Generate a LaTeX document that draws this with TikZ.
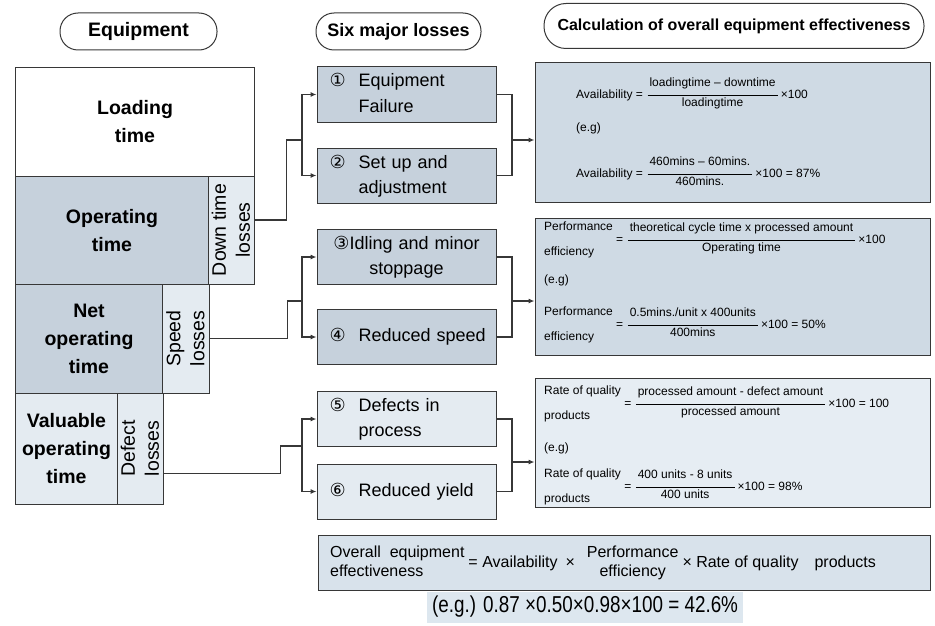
\documentclass[tikz,border=0pt]{standalone}
\usepackage{amsmath}
\usepackage{fontspec}
\setmainfont{Liberation Sans}
\newfontfamily\circfont{DejaVu Sans}
\newfontfamily\narrowfont[FakeStretch=0.82]{Liberation Sans}
\usepackage{tikz}
\usetikzlibrary{arrows.meta}

\definecolor{midfill}{RGB}{198,209,220}
\definecolor{lightfill}{RGB}{228,235,241}
\definecolor{calcfill}{RGB}{207,218,228}
\definecolor{qualfill}{RGB}{230,237,243}
\definecolor{sumfill}{RGB}{216,226,235}
\definecolor{egfill}{RGB}{221,231,239}
\definecolor{linegray}{RGB}{55,55,55}

\newcommand{\frc}[2]{$\dfrac{\mbox{\rule[-7pt]{0pt}{16pt}\,#1\,}}{\mbox{\rule[-4pt]{0pt}{13pt}\,#2\,}}$}
\newcommand{\lbl}[2]{\begin{tabular}{@{}l@{}}#1\\[10pt]#2\end{tabular}}
\newcommand{\numtwo}[3]{\begin{tabular}{@{\hspace{6pt}}l@{\hspace{13pt}}l@{}}{\circfont #1}&#2\\&#3\end{tabular}}

\tikzset{
    block/.style={draw=linegray, line width=1pt, inner sep=0pt, anchor=north west, align=center, font=\bfseries\fontsize{19.5}{28}\selectfont},
    lossbar/.style={draw=linegray, line width=1pt, inner sep=0pt, fill=lightfill, rotate=90, align=center, font=\fontsize{19.5}{24}\selectfont},
    lossbox/.style={draw=linegray, line width=1pt, fill=midfill, minimum width=179pt, minimum height=55pt, text width=166pt, align=left, inner sep=0pt, font=\fontsize{18}{25}\selectfont},
    header/.style={draw=linegray, line width=1pt, inner sep=0pt, minimum height=37pt, rounded corners=18pt},
    calcbox/.style={draw=linegray, line width=1pt, inner sep=0pt},
    formula/.style={anchor=west, inner sep=0pt, font=\fontsize{12}{14.4}\selectfont},
    link/.style={draw=linegray, line width=1.1pt},
    tip/.style={-{Latex[length=6pt,width=5pt]}}
}

\begin{document}
\begin{tikzpicture}[x=1pt,y=-1pt]
    \useasboundingbox (0,0) rectangle (935,626);

    \node[header, minimum width=157pt, font=\bfseries\fontsize{19.5}{20}\selectfont] at (138.5,31.5) (equiphead) {Equipment};
    \node[header, minimum width=165pt, font=\bfseries\fontsize{18}{20}\selectfont] at (398.5,31.5) (losshead) {Six major losses};
    \node[header, minimum width=380pt, minimum height=45pt, rounded corners=22pt, font=\bfseries\fontsize{16}{18}\selectfont] at (734,26) (calchead) {Calculation of overall equipment effectiveness};

    \node[block, minimum width=239pt, minimum height=109pt] at (15,67) (loading) {Loading\\time};
    \node[block, fill=midfill, minimum width=193pt, minimum height=108pt] at (15,176) (operating) {Operating\\time};
    \node[lossbar, minimum width=108pt, minimum height=46pt] at (231,230) (down) {Down time\\losses};
    \node[block, fill=midfill, minimum width=147pt, minimum height=109pt] at (15,284) (net) {Net\\operating\\time};
    \node[lossbar, minimum width=109pt, minimum height=47pt] at (185.5,338.5) (speed) {Speed\\losses};
    \node[block, fill=lightfill, minimum width=102pt, minimum height=111pt] at (15,393) (valuable) {Valuable\\operating\\time};
    \node[lossbar, minimum width=111pt, minimum height=46pt] at (140,448.5) (defect) {Defect\\losses};

    \node[lossbox] at (406.5,94.5) (loss1) {\numtwo{①}{Equipment}{Failure}};
    \node[lossbox] at (406.5,175.5) (loss2) {\numtwo{②}{Set up and}{adjustment}};
    \node[lossbox, align=center] at (406.5,257) (loss3) {{\circfont ③}Idling and minor\\stoppage};
    \node[lossbox] at (406.5,337) (loss4) {\hspace*{6pt}{\circfont ④}\hspace{13pt}Reduced speed};
    \node[lossbox, fill=lightfill] at (406.5,419) (loss5) {\numtwo{⑤}{Defects in}{process}};
    \node[lossbox, fill=lightfill] at (406.5,491.5) (loss6) {\hspace*{6pt}{\circfont ⑥}\hspace{13pt}Reduced yield};

    \node[calcbox, fill=calcfill, minimum width=395pt, minimum height=139pt] at (732.5,132.5) (avail) {};
    \node[formula] at (576,94) (availeq) {Availability = \frc{loadingtime -- downtime}{loadingtime}\,×100};
    \node[formula] at (576,128) (availeg) {(e.g)};
    \node[formula] at (576,173) (availex) {Availability = \frc{460mins -- 60mins.}{460mins.}\,×100 = 87\%};

    \node[calcbox, fill=calcfill, minimum width=395pt, minimum height=137pt] at (732.5,286.5) (perf) {};
    \node[formula] at (544,240) (perfeq) {\lbl{Performance}{efficiency} = \frc{theoretical cycle time x processed amount}{Operating time}\,×100};
    \node[formula] at (544,280) (perfeg) {(e.g)};
    \node[formula] at (544,325) (perfex) {\lbl{Performance}{efficiency} = \frc{0.5mins./unit x 400units}{400mins}\,×100 = 50\%};

    \node[calcbox, fill=qualfill, minimum width=395pt, minimum height=129pt] at (732.5,442.5) (qual) {};
    \node[formula] at (544,404) (qualeq) {\lbl{Rate of quality}{products} = \frc{processed amount - defect amount}{processed amount}\,×100 = 100};
    \node[formula] at (544,448) (qualeg) {(e.g)};
    \node[formula] at (544,487) (qualex) {\lbl{Rate of quality}{products} = \frc{400 units - 8 units}{400 units}\,×100 = 98\%};

    \node[calcbox, fill=sumfill, minimum width=612pt, minimum height=55pt] at (624,562.5) (oee) {};
    \node[anchor=west, inner sep=0pt, font=\fontsize{16}{19}\selectfont] at (330,563) (oeeeq) {\begin{tabular}{@{}l@{}}Overall\ \ equipment\\effectiveness\end{tabular}\hspace{4pt}= Availability\enspace×\hspace{12pt}\begin{tabular}{@{}c@{}}Performance\\efficiency\end{tabular}\hspace{4pt}× Rate of quality\quad products};
    \node[fill=egfill, inner xsep=5pt, inner ysep=0pt, minimum height=31pt, anchor=west, font=\narrowfont\fontsize{23}{26}\selectfont] at (427,607) (oeeex) {(e.g.) 0.87 ×0.50×0.98×100 = 42.6\%};

    \coordinate (fork1) at (302,140);
    \coordinate (join1) at (512,140);
    \draw[link] ([yshift=10pt]down.south) -- ++(32,0) |- (fork1);
    \draw[link,tip] (fork1) |- (loss1.west);
    \draw[link,tip] (fork1) |- (loss2.west);
    \draw[link] (loss1.east) -| (join1) |- (loss2.east);
    \draw[link,tip] (join1) -- (join1 -| avail.west);

    \coordinate (fork2) at (302,301);
    \coordinate (join2) at (512,301);
    \draw[link] (speed.south) -- ++(78,0) |- (fork2);
    \draw[link,tip] (fork2) |- (loss3.west);
    \draw[link,tip] (fork2) |- (loss4.west);
    \draw[link] (loss3.east) -| (join2) |- (loss4.east);
    \draw[link,tip] (join2) -- (join2 -| perf.west);

    \coordinate (fork3) at (302,446);
    \coordinate (join3) at (512,462);
    \draw[link] ([yshift=-25pt]defect.south) -- ++(117,0) |- (fork3);
    \draw[link,tip] (fork3) |- (loss5.west);
    \draw[link,tip] (fork3) |- (loss6.west);
    \draw[link] (loss5.east) -| (join3) |- (loss6.east);
    \draw[link,tip] (join3) -- (join3 -| qual.west);
\end{tikzpicture}
\end{document}
